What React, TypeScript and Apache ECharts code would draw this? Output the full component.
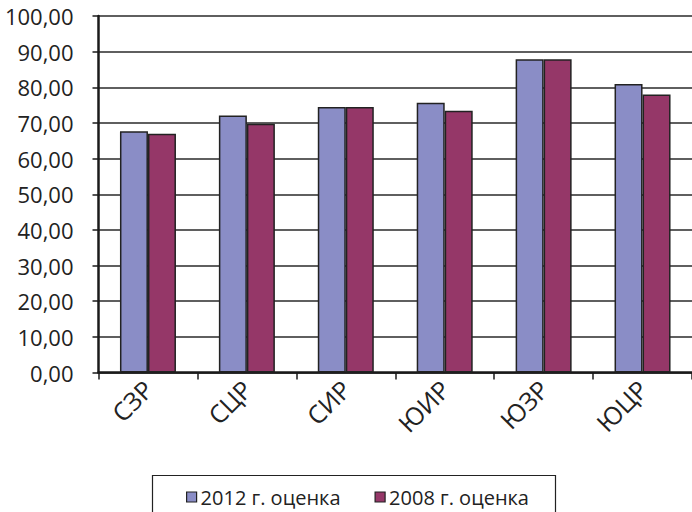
import React, { useEffect, useRef } from "react";
import * as echarts from "echarts";

const categories = ["СЗР", "СЦР", "СИР", "ЮИР", "ЮЗР", "ЮЦР"];
const series2012 = [67.7, 72.1, 74.5, 75.7, 87.9, 80.9];
const series2008 = [67.0, 69.8, 74.5, 73.4, 87.9, 78.0];
const seriesNames = ["2012 г. оценка", "2008 г. оценка"];

export default function App() {
  const ref = useRef<HTMLDivElement>(null);
  useEffect(() => {
    document.body.style.margin = "0";
    const chart = echarts.init(ref.current!, null, { renderer: "svg" });
    const font = "'Open Sans', 'Noto Sans', sans-serif";
    chart.setOption({
      animation: false,
      backgroundColor: "#ffffff",
      textStyle: { fontFamily: font },
      grid: { left: 98.5, top: 16, width: 598, height: 356.5, containLabel: false },
      graphic: [
        {
          type: "rect",
          shape: { x: 152.5, y: 475.5, width: 403, height: 60 },
          style: { fill: "none", stroke: "#222", lineWidth: 1.2 },
          silent: true,
        },
      ],
      legend: {
        top: 487,
        left: 186,
        itemWidth: 10,
        itemHeight: 10,
        itemGap: 34,
        padding: 0,
        icon: "rect",
        textStyle: { fontSize: 20, color: "#222", fontFamily: font, padding: [2, 0, 0, -1] },
        data: seriesNames.map((n) => ({ name: n, itemStyle: { borderColor: "#222", borderWidth: 1.2 } })),
      },
      xAxis: {
        type: "category",
        data: categories,
        axisLine: { lineStyle: { color: "#1a1a1a", width: 2.5 } },
        axisTick: { show: true, length: 7, lineStyle: { color: "#1a1a1a", width: 1.5 } },
        axisLabel: { rotate: 45, fontSize: 25, color: "#222", margin: 12, fontFamily: font },
      },
      yAxis: {
        type: "value",
        min: 0,
        max: 100,
        interval: 10,
        axisLine: { show: true, lineStyle: { color: "#1a1a1a", width: 2.5 } },
        axisTick: { show: true, length: 6, lineStyle: { color: "#1a1a1a", width: 1.5 } },
        splitLine: { lineStyle: { color: "#2a2a2a", width: 1.5 } },
        axisLabel: {
          fontSize: 22,
          color: "#222",
          margin: 25,
          fontFamily: font,
          formatter: (v: number) => v.toFixed(2).replace(".", ","),
        },
      },
      series: [
        {
          name: seriesNames[0],
          type: "bar",
          data: series2012,
          barWidth: 28,
          barGap: "0%",
          itemStyle: { color: "#8a8dc6", borderColor: "#222", borderWidth: 1.5 },
        },
        {
          name: seriesNames[1],
          type: "bar",
          data: series2008,
          barWidth: 28,
          barGap: "0%",
          itemStyle: { color: "#953768", borderColor: "#222", borderWidth: 1.5 },
        },
      ],
    });
    return () => chart.dispose();
  }, []);
  return <div ref={ref} style={{ width: 692, height: 512 }} />;
}
